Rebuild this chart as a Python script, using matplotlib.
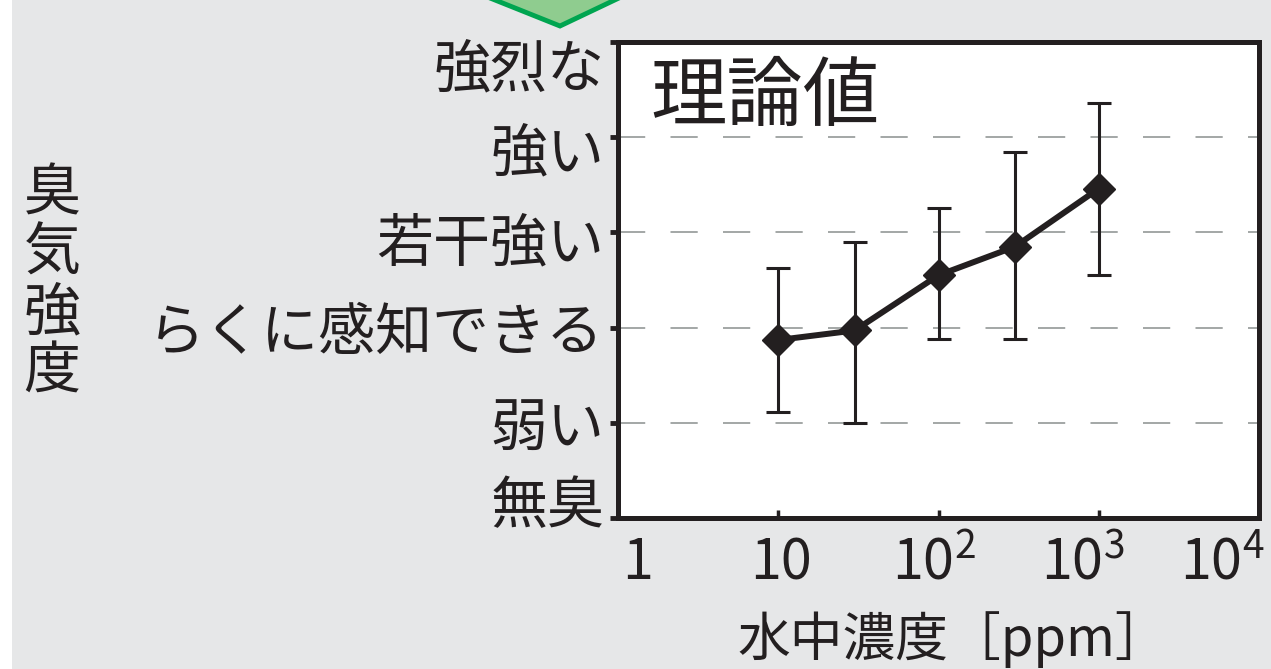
import matplotlib
matplotlib.use('Agg')
import matplotlib.pyplot as plt
from matplotlib.patches import Polygon, Rectangle
import matplotlib.transforms as mtransforms

# データ
conc = [10, 30, 100, 300, 1000]
odor_mean = [1.87, 1.97, 2.55, 2.85, 3.46]
odor_upper = [2.63, 2.90, 3.26, 3.84, 4.36]
odor_lower = [1.11, 1.00, 1.88, 1.88, 2.55]

y_labels = ['無臭', '弱い', 'らくに感知できる', '若干強い', '強い', '強烈な']
x_ticks = [1, 10, 100, 1000, 10000]
x_tick_labels = ['1', '10', r'$10^{2}$', r'$10^{3}$', r'$10^{4}$']

plt.rcParams['font.family'] = ['Noto Sans CJK JP', 'DejaVu Sans']
plt.rcParams['mathtext.fontset'] = 'custom'
plt.rcParams['mathtext.rm'] = 'Noto Sans CJK JP'
plt.rcParams['mathtext.it'] = 'Noto Sans CJK JP'

W, H = 1271, 669
fig = plt.figure(figsize=(W / 100, H / 100), dpi=100)
fig.patch.set_facecolor('white')

# 背景（灰色）
fig.patches.append(Rectangle((12 / W, 0), 1 - 12 / W, 1, transform=fig.transFigure,
                             facecolor='#e6e7e8', edgecolor='none', zorder=-10))

# 上部の緑の矢印（一部のみ見える）
arrow_pts = [(465, -12), (560, 26), (640, -12)]
fig.patches.append(Polygon([(x / W, 1 - y / H) for x, y in arrow_pts], closed=True,
                           transform=fig.transFigure, facecolor='#8fcc8f',
                           edgecolor='#00a550', linewidth=3.5, zorder=-5))

ax = fig.add_axes([618 / W, 1 - 518 / H, (1259 - 618) / W, (518 - 42) / H])
ax.set_facecolor('white')

yerr = [[m - lo for m, lo in zip(odor_mean, odor_lower)],
        [up - m for m, up in zip(odor_mean, odor_upper)]]
ax.errorbar(conc, odor_mean, yerr=yerr, fmt='-', color='#231f20', linewidth=4.3,
            elinewidth=2.2, capsize=8.5, capthick=2.2, marker='D', markersize=16.5,
            markerfacecolor='#231f20', markeredgecolor='#231f20', zorder=5)

ax.set_xscale('log')
ax.set_xlim(1, 1e4)
ax.set_ylim(0, 5)
ax.minorticks_off()

ax.set_xticks(x_ticks)
ax.set_xticklabels(x_tick_labels, fontsize=40)
ax.set_yticks(range(len(y_labels)))
ax.set_yticklabels(y_labels, fontsize=41)

for y in range(1, 5):
    ax.axhline(y, color='#a3a7a6', linewidth=1.4, dashes=(14, 13), zorder=1)

for s in ax.spines.values():
    s.set_linewidth(3.6)
    s.set_color('#231f20')

ax.tick_params(axis='x', direction='in', length=6, width=2.5, pad=12,
               colors='#231f20', labelcolor='#231f20')
ax.tick_params(axis='y', direction='out', length=6, width=3.5, pad=4,
               colors='#231f20', labelcolor='#231f20')

# ラベルの位置調整（元図に合わせる）
xl = ax.get_xticklabels()
xl[0].set_ha('left')
xl[-1].set_ha('right')
x_offsets = {0: 4, 1: 3, 2: -5, 3: -16, 4: 6}
for i, t in enumerate(xl):
    dx = x_offsets.get(i, 0)
    t.set_transform(t.get_transform() + mtransforms.ScaledTranslation(dx / 100, 0, fig.dpi_scale_trans))

yl = ax.get_yticklabels()
y_offsets = {0: 18, 3: -5, 4: -10, 5: -22}
for i, t in enumerate(yl):
    dy = y_offsets.get(i, 0)
    t.set_transform(t.get_transform() + mtransforms.ScaledTranslation(0, dy / 100, fig.dpi_scale_trans))

ax.text(0.05, 0.965, '理論値', transform=ax.transAxes, fontsize=55, ha='left', va='top',
        color='#231f20')

ax.set_xlabel('水中濃度［ppm］', fontsize=38, color='#231f20', labelpad=14)
ax.xaxis.label.set_x(0.5 + 14 / 641)

fig.text(52 / W, 1 - 283 / H, '\n'.join('臭気強度'), fontsize=41, ha='center', va='center',
         linespacing=1.02, color='#231f20')

fig.savefig('out.png', dpi=100)
